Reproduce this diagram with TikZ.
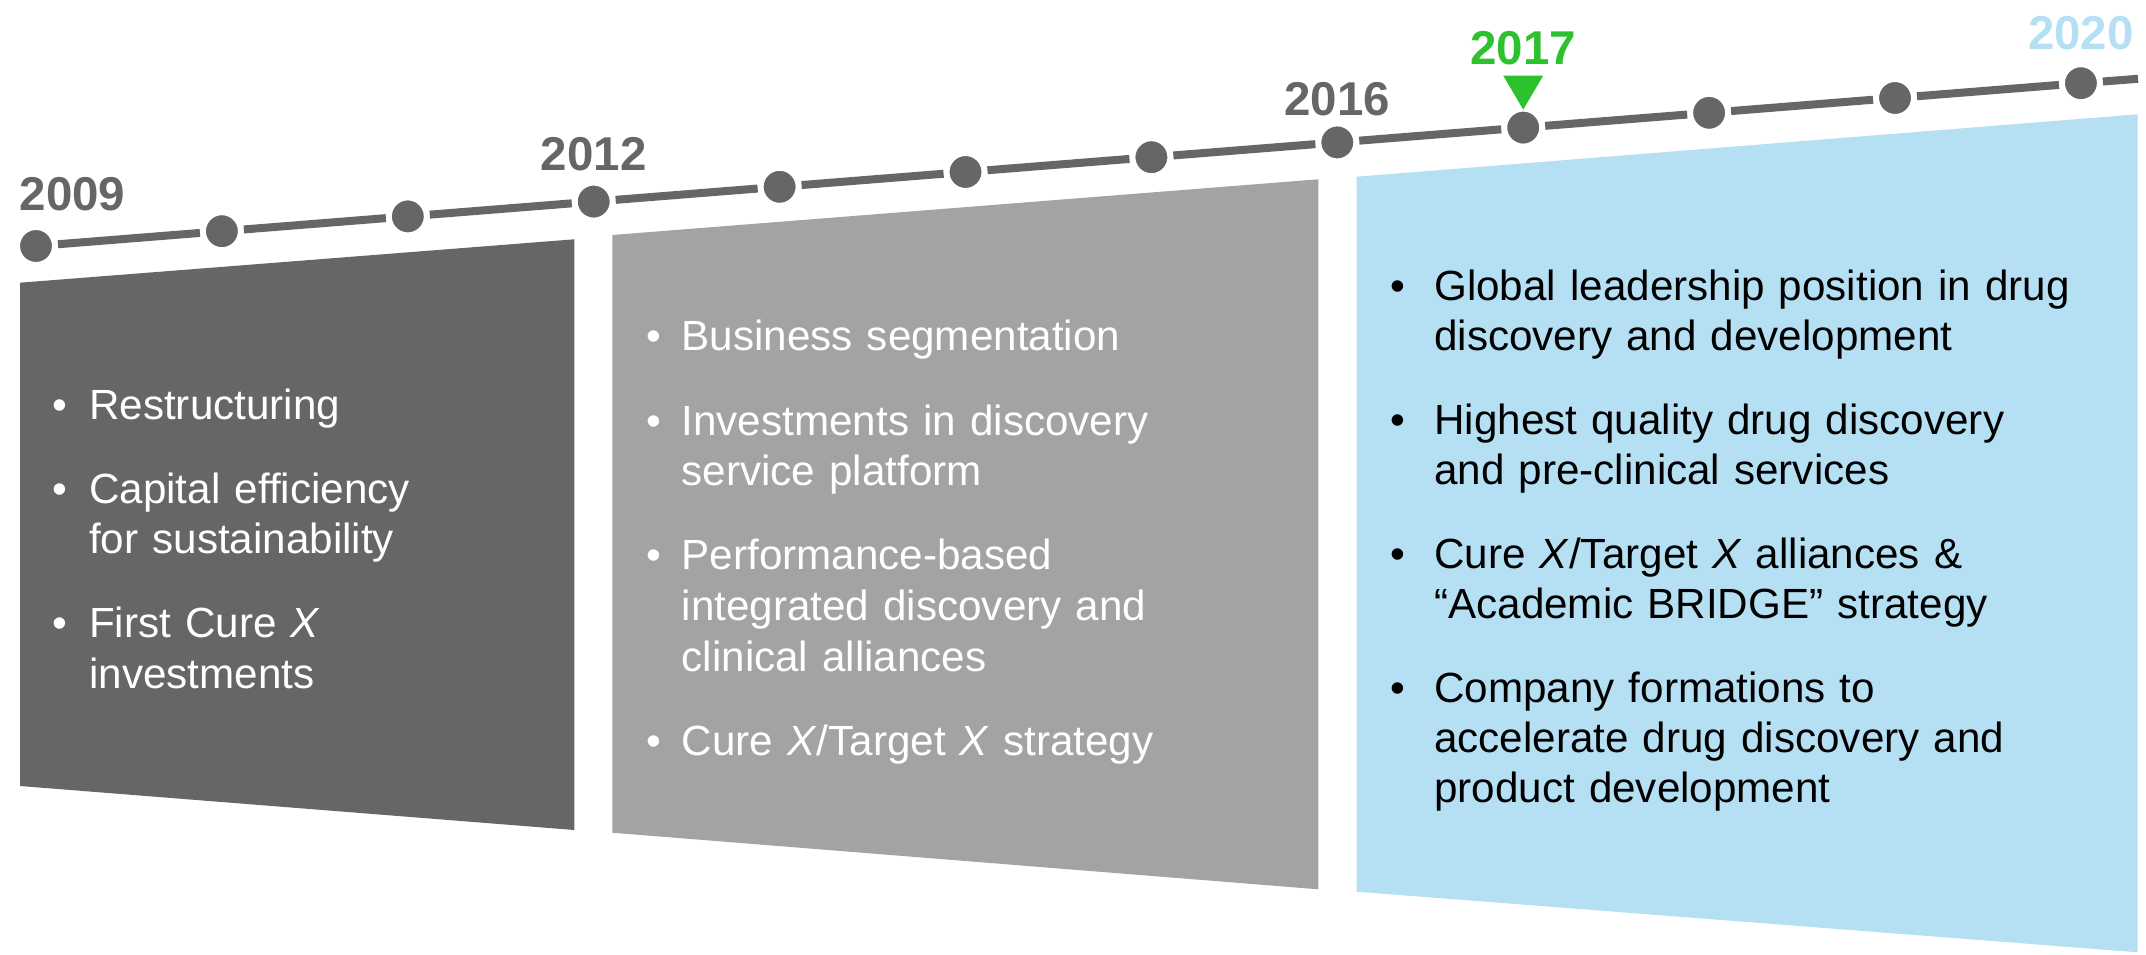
\documentclass[tikz,border=0pt]{standalone}
\usepackage{fontspec}
\setmainfont{Liberation Sans}
\usetikzlibrary{positioning}
\definecolor{darkpanel}{HTML}{666666}
\definecolor{greypanel}{HTML}{A3A3A3}
\definecolor{bluepanel}{HTML}{B5E0F4}
\definecolor{dotgrey}{HTML}{666666}
\definecolor{markgreen}{HTML}{2DC22D}
\newcommand{\bitem}[2][0.37cm]{\hangindent=#1\hangafter=1\makebox[#1][l]{•}#2\par}

\begin{document}
\begin{tikzpicture}[x=0.01cm,y=-0.01cm,
    tick/.style={circle,fill=dotgrey,draw=white,line width=0.06cm,minimum size=0.38cm,inner sep=0pt},
    tline/.style={draw=dotgrey,line width=0.08cm},
    year/.style={inner sep=0pt,text=dotgrey,font=\fontsize{13.5}{16}\selectfont\bfseries},
    pts/.style={anchor=base west,inner sep=0pt,text=white,font=\fontsize{12}{14.4}\selectfont}]
  \useasboundingbox (0,0) rectangle (2146,955);

  \fill[darkpanel] (20,282.7) -- (574.3,239.3) -- (574.3,830) -- (20,786) -- cycle;
  \fill[greypanel] (612.3,235) -- (1318.3,179.3) -- (1318.3,889.3) -- (612.3,832.7) -- cycle;
  \fill[bluepanel] (1356.7,176.7) -- (2137.7,114.3) -- (2137.7,952.3) -- (1356.7,891.7) -- cycle;

  \foreach \i in {1,...,12}
    \node[tick] (d\i) at ({36+185.9*(\i-1)},{246-14.8*(\i-1)}) {};
  \foreach \i [count=\j from 2] in {1,...,11}
    \draw[tline] (d\i) -- (d\j);
  \coordinate (tend) at (2138,78.8);
  \draw[tline] (d12) -- (tend);

  \node[year,above=0.12cm of d1,xshift=0.365cm] (y2009) {2009};
  \node[year,above=0.08cm of d4] (y2012) {2012};
  \node[year,above=0.04cm of d8] (y2016) {2016};
  \node[year,text=markgreen,above=0.40cm of d9] (y2017) {2017};
  \node[year,text=bluepanel,above=0.11cm of d12] (y2020) {2020};
  \fill[markgreen] ([shift={(-20,-52)}]d9.center) -- ([shift={(20,-52)}]d9.center) -- ([shift={(0,-18)}]d9.center) -- cycle;

  \node[pts,text width=5cm] (p1) at (51.5,419.5) {\setlength{\parskip}{9.4pt}%
    \bitem{Restructuring}
    \bitem{Capital efficiency\newline for sustainability}
    \bitem{First Cure \textit{X}\newline investments}};
  \node[pts,text width=6.3cm] (p2) at (645.5,351) {\setlength{\parskip}{9.5pt}%
    \bitem[0.355cm]{Business segmentation}
    \bitem[0.355cm]{Investments in discovery\newline service platform}
    \bitem[0.355cm]{Performance-based\newline integrated discovery and\newline clinical alliances}
    \bitem[0.355cm]{Cure \textit{X}/Target \textit{X} strategy}};
  \node[pts,text=black,text width=7.3cm,font=\fontsize{12}{14.17}\selectfont] (p3) at (1389.5,300.5) {\setlength{\parskip}{9.8pt}%
    \bitem[0.44cm]{Global leadership position in drug\newline discovery and development}
    \bitem[0.44cm]{Highest quality drug discovery\newline and pre-clinical services}
    \bitem[0.44cm]{Cure \textit{X}/Target \textit{X} alliances \&\newline “Academic BRIDGE” strategy}
    \bitem[0.44cm]{Company formations to\newline accelerate drug discovery and\newline product development}};
\end{tikzpicture}
\end{document}
